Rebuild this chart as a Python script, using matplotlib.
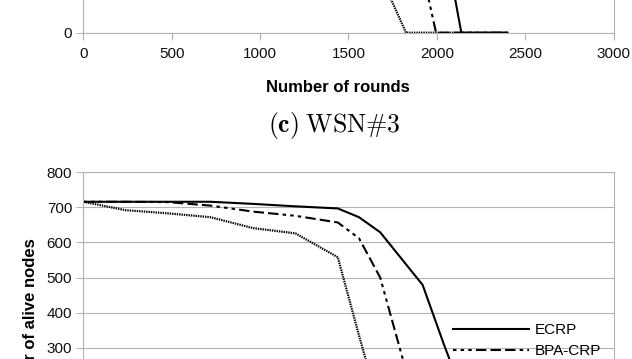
import numpy as np
import matplotlib
matplotlib.use("Agg")
import matplotlib.pyplot as plt

plt.rcParams['font.family'] = ['Liberation Sans', 'DejaVu Sans']
plt.rcParams['mathtext.fontset'] = 'cm'
plt.rcParams['lines.scale_dashes'] = False

# (c) WSN#3 - only the bottom of this panel is in view
top_ecrp_x = [0, 400, 800, 1200, 1600, 1800, 2000, 2100, 2139, 2400]
top_ecrp_y = [400, 400, 398, 395, 390, 380, 330, 80, 0, 0]
top_bpa_x = [0, 400, 800, 1200, 1600, 1800, 1900, 1996, 2400]
top_bpa_y = [400, 400, 395, 388, 370, 330, 164, 0, 0]
top_third_x = [0, 400, 800, 1200, 1400, 1600, 1700, 1826, 2000, 2400]
top_third_y = [400, 390, 380, 365, 340, 300, 106, 0, 0, 0]

# (d) panel - top part only
rounds = [0, 240, 480, 720, 960, 1200, 1440, 1560, 1680, 1800, 1920, 2040, 2160, 2280, 2400]
ecrp = [716, 716, 716, 716, 710, 703, 697, 672, 629, 554, 479, 310, 150, 40, 0]
bpa_crp = [716, 716, 715, 705, 688, 676, 657, 612, 500, 282, 60, 0, 0, 0, 0]
third = [716, 692, 683, 672, 641, 626, 558, 335, 120, 0, 0, 0, 0, 0, 0]

labels = ['ECRP', 'BPA-CRP', 'LEACH']
grid_c = '#b3b3b3'

fig = plt.figure(figsize=(6.32, 3.59), dpi=100)
W, H = 632, 359

def px_axes(left, right, top, bottom):
    return fig.add_axes([left / W, 1 - bottom / H, (right - left) / W, (bottom - top) / H])

def style(ax, ymax, yticks):
    ax.set_xlim(0, 3000)
    ax.set_ylim(0, ymax)
    ax.set_yticks(yticks)
    ax.set_xticks(np.arange(0, 3001, 500))
    ax.grid(axis='y', color=grid_c, lw=0.8)
    ax.set_axisbelow(True)
    for s in ax.spines.values():
        s.set_color(grid_c)
        s.set_linewidth(0.8)
    ax.tick_params(colors=grid_c, labelcolor='#111111', labelsize=11, length=5, width=0.8, pad=3)

def draw(ax, xs, ys):
    l1, = ax.plot(xs[0], ys[0], color='black', lw=1.5, label=labels[0])
    l2, = ax.plot(xs[1], ys[1], color='black', lw=1.5, dashes=(2.5, 3, 2.5, 3, 2.5, 3, 7.5, 3, 7.5, 3, 7.5, 3), label=labels[1])
    l3, = ax.plot(xs[2], ys[2], color='black', lw=1.6, dashes=(1.0, 0.7), label=labels[2])
    return [l1, l2, l3]

# top panel (extends above the figure, only its zero line is in view)
ax1 = px_axes(83.3, 613.5, 32.7 - 281, 32.7)
style(ax1, 600, [0])
draw(ax1, [top_ecrp_x, top_bpa_x, top_third_x], [top_ecrp_y, top_bpa_y, top_third_y])
ax1.tick_params(axis='x', pad=5.5)
ax1.set_xlabel('Number of rounds', fontsize=12, fontweight='bold', va='center')
ax1.xaxis.set_label_coords((338 - 83.3) / 530.2, -54.6 / 281)

fig.text(334 / W, 1 - 125 / H, r'$\mathbf{(c)}\;\mathrm{WSN\#3}$', fontsize=18.5, ha='center', va='center')

# bottom panel (extends below the figure)
ax2 = px_axes(83.3, 613.5, 172.3, 453)
style(ax2, 800, np.arange(0, 801, 100))
hs = draw(ax2, [rounds] * 3, [ecrp, bpa_crp, third])
ax2.set_ylabel('Number of alive nodes', fontsize=12, fontweight='bold', va='center')
ax2.yaxis.set_label_coords((30.8 - 83.3) / 530.2, (453 - 326.5) / 281)
ax2.legend(handles=hs, loc='upper left', bbox_to_anchor=(453 / W, 1 - 323 / H), bbox_transform=fig.transFigure,
           frameon=False, fontsize=11, handlelength=5.0, handletextpad=0.35, labelspacing=0.45, borderpad=0,
           borderaxespad=0)

fig.savefig('out.png', dpi=100)
